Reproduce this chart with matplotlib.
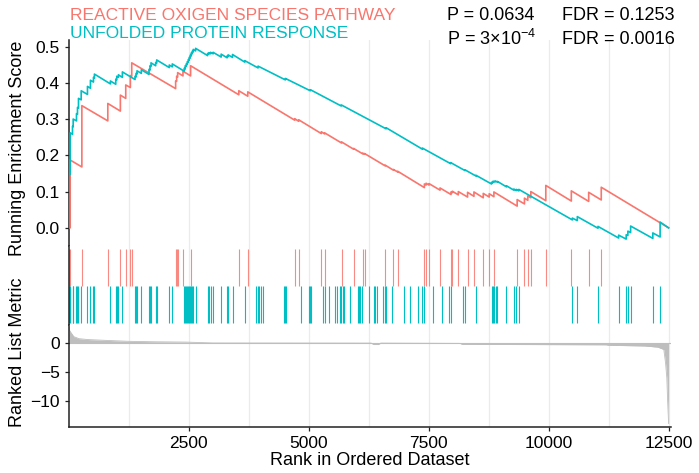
import matplotlib
matplotlib.use("Agg")
import matplotlib.pyplot as plt

plt.rcParams['font.family'] = ['Liberation Sans', 'DejaVu Sans']
plt.rcParams['mathtext.fontset'] = 'custom'
plt.rcParams['mathtext.rm'] = 'Liberation Sans'
plt.rcParams['mathtext.it'] = 'Liberation Sans:italic'
plt.rcParams['mathtext.default'] = 'regular'

N_GENES = 12500
RED = '#F8766D'
TEAL = '#00BFC4'
set_names = ['REACTIVE OXIGEN SPECIES PATHWAY', 'UNFOLDED PROTEIN RESPONSE']
p_labels = ['P = 0.0634', r'P = 3$\times$10$^{-4}$']
fdr_labels = ['FDR = 0.1253', 'FDR = 0.0016']

# gene set hit positions in the ranked list
red_hits = [4, 25, 268, 809, 1071, 1183, 1279, 1308, 2223, 2244, 2265, 2376, 2535,
            3540, 3727, 4705, 4788, 5260, 5329, 5682, 5932, 6125, 6161, 6591, 6764,
            6853, 7409, 7444, 7506, 7735, 7964, 7991, 8116, 8309, 8442, 8636, 8760,
            8858, 9343, 9495, 9565, 9628, 9940, 10472, 10834, 11096]
teal_hits = [4, 25, 73, 87, 156, 177, 198, 254, 385, 447, 510, 530, 863, 975, 996,
             1030, 1113, 1377, 1398, 1418, 1508, 1668, 1689, 1710, 1807, 1828, 2090,
             2153, 2402, 2423, 2444, 2465, 2486, 2506, 2527, 2548, 2569, 2590, 2639,
             2889, 2916, 2951, 3005, 3172, 3296, 3317, 3409, 3665, 3908, 3941, 3962,
             4012, 4039, 4476, 4511, 4532, 4844, 5010, 5031, 5052, 5294, 5343, 5412,
             5551, 5585, 5655, 5676, 5703, 5724, 5863, 6021, 6050, 6071, 6105, 6244,
             6348, 6369, 6416, 6556, 6591, 6612, 6729, 6993, 7111, 7284, 7367, 7402,
             7581, 7768, 7928, 7956, 8220, 8255, 8484, 8808, 8829, 8858, 8892, 8933,
             9120, 9274, 9328, 9378, 10493, 10597, 11028, 11458, 11616, 11651, 11708,
             12171, 12323]

# running enrichment score (vertices of the curves)
red_rank = [1, 25, 25, 268, 268, 809, 809, 1071, 1071, 1183, 1183, 1279, 1279, 1308, 1308,
            2223, 2223, 2244, 2244, 2265, 2265, 2376, 2376, 2535, 2535, 3540, 3540, 3727, 3727,
            4705, 4705, 4788, 4788, 5260, 5260, 5329, 5329, 5682, 5682, 5932, 5932,
            6125, 6125, 6161, 6161, 6591, 6591, 6764, 6764, 6853, 6853,
            7409, 7409, 7444, 7444, 7506, 7506, 7735, 7735,
            7964, 7964, 7991, 7991, 8116, 8116, 8309, 8309, 8442, 8442, 8636, 8636,
            8760, 8760, 8858, 8858, 9343, 9343, 9495, 9495, 9565, 9565, 9628, 9628,
            9940, 9940, 10472, 10472, 10834, 10834, 11096, 11096, 12500]
red_es = [0.0, 0.0, 0.187, 0.168, 0.337, 0.295, 0.343, 0.322, 0.366, 0.357, 0.394, 0.387, 0.42, 0.418, 0.455,
          0.384, 0.405, 0.404, 0.418, 0.416, 0.428, 0.419, 0.432, 0.419, 0.447, 0.367, 0.378, 0.363, 0.375,
          0.297, 0.301, 0.294, 0.298, 0.260, 0.265, 0.259, 0.262, 0.234, 0.237, 0.217, 0.219,
          0.204, 0.206, 0.203, 0.205, 0.171, 0.173, 0.159, 0.161, 0.154, 0.156,
          0.111, 0.121, 0.118, 0.123, 0.118, 0.122, 0.104, 0.110,
          0.092, 0.099, 0.097, 0.101, 0.091, 0.100, 0.085, 0.098, 0.087, 0.099, 0.083, 0.095,
          0.085, 0.094, 0.086, 0.099, 0.060, 0.078, 0.066, 0.082, 0.076, 0.088, 0.083, 0.100,
          0.075, 0.117, 0.074, 0.102, 0.073, 0.098, 0.077, 0.112, 0.0]

teal_rank = [1, 4, 4, 25, 25, 73, 73, 87, 87, 156, 156, 177, 177, 198, 198, 254, 254,
             385, 385, 447, 447, 510, 510, 530, 530, 863, 863, 975, 975, 996, 996, 1030, 1030,
             1113, 1113, 1377, 1377, 1398, 1398, 1418, 1418, 1508, 1508, 1668, 1668, 1689, 1689,
             1710, 1710, 1807, 1807, 1828, 1828, 2090, 2090, 2153, 2153, 2402, 2402, 2423, 2423,
             2444, 2444, 2465, 2465, 2486, 2486, 2506, 2506, 2527, 2527, 2548, 2548, 2569, 2569,
             2590, 2590, 2639, 2639, 2889, 2889, 2916, 2916, 2951, 2951, 3005, 3005, 3172, 3172,
             3296, 3296, 3317, 3317, 3409, 3409, 3665, 3665, 3941, 3941, 4511, 4511, 5031, 5031,
             5676, 5676, 6612, 6612, 7367, 7367, 7956, 7956, 8255, 8255, 8484, 8484,
             8808, 8808, 8829, 8829, 8858, 8858, 8892, 8892, 8933, 8933, 9120, 9120,
             9274, 9274, 9328, 9328, 9378, 9378, 10493, 10493, 10597, 10597, 11028, 11028,
             11458, 11458, 11616, 11616, 11651, 11651, 11708, 11708, 12171, 12171, 12323, 12323, 12500]
teal_es = [0.0, 0.0, 0.15, 0.148, 0.262, 0.258, 0.28, 0.279, 0.30, 0.295, 0.315, 0.313, 0.332, 0.330, 0.357,
           0.353, 0.378, 0.368, 0.39, 0.385, 0.407, 0.402, 0.415, 0.413, 0.424, 0.397, 0.405,
           0.396, 0.41, 0.408, 0.418, 0.415, 0.422, 0.415, 0.43, 0.409, 0.418, 0.416, 0.426,
           0.424, 0.433, 0.426, 0.436, 0.423, 0.437, 0.435, 0.447, 0.445, 0.455, 0.447, 0.456,
           0.454, 0.463, 0.442, 0.449, 0.444, 0.452, 0.432, 0.44, 0.438, 0.447, 0.445, 0.452,
           0.450, 0.458, 0.456, 0.464, 0.462, 0.47, 0.468, 0.476, 0.474, 0.482, 0.48, 0.487,
           0.485, 0.492, 0.488, 0.495, 0.475, 0.481, 0.479, 0.483, 0.480, 0.484, 0.480, 0.484,
           0.471, 0.479, 0.469, 0.474, 0.472, 0.477, 0.470, 0.478, 0.457, 0.461, 0.441, 0.446,
           0.408, 0.412, 0.378, 0.381, 0.336, 0.339, 0.273, 0.276, 0.217, 0.220, 0.177, 0.180,
           0.158, 0.160, 0.143, 0.145, 0.121, 0.125, 0.124, 0.128, 0.126, 0.129, 0.127, 0.129,
           0.126, 0.128, 0.113, 0.116, 0.104, 0.107, 0.103, 0.106, 0.102, 0.106,
           0.022, 0.027, 0.020, 0.031, -0.001, 0.004, -0.028, -0.020, -0.031, -0.019,
           -0.021, -0.009, -0.013, 0.005, -0.029, -0.014, -0.025, 0.016, 0.0]

# ranked list metric (outline)
metric_rank = [1, 10, 40, 100, 210, 400, 800, 1250, 1800, 2430, 2700, 3000, 6300, 6350,
               6450, 6500, 8150, 8200, 11200, 11250, 12000, 12275, 12400, 12436, 12463,
               12480, 12500]
metric_value = [2.7, 2.2, 1.8, 1.1, 0.75, 0.6, 0.45, 0.3, 0.22, 0.17, 0.1, 0.02, 0.0, -0.25,
                -0.25, 0.0, -0.05, -0.22, -0.3, -0.38, -0.5, -0.7, -1.1, -3.4, -6.0,
                -10.0, -13.8]

W, H = 699, 473
fig = plt.figure(figsize=(W / 100, H / 100), dpi=100)


def box(x0, y0, x1, y1):
    return [x0 / W, 1 - y1 / H, (x1 - x0) / W, (y1 - y0) / H]


ax_es = fig.add_axes(box(69, 40, 671, 246))
ax_rug = fig.add_axes(box(69, 246, 671, 325))
ax_rank = fig.add_axes(box(69, 325, 671, 427))

grid_x = list(range(1250, 12501, 1250))
for ax in (ax_es, ax_rug, ax_rank):
    ax.set_xlim(0, 12550)
    for gx in grid_x:
        ax.axvline(gx, color='#EBEBEB', lw=0.9, zorder=0)
    for s in ('top', 'right', 'bottom'):
        ax.spines[s].set_visible(False)
    ax.spines['left'].set_linewidth(1.1)
    ax.spines['left'].set_color('#222222')
    ax.tick_params(axis='both', labelsize=12.5, colors='#222222', length=3,
                   width=0.9, labelcolor='black')
    ax.set_xticks([])

# running ES
ax_es.plot(red_rank, red_es, color=RED, lw=1.2, zorder=3)
ax_es.plot(teal_rank, teal_es, color=TEAL, lw=1.2, zorder=3)
ax_es.set_ylim(-0.05, 0.518)
ax_es.set_yticks([0.0, 0.1, 0.2, 0.3, 0.4, 0.5])
ax_es.set_yticklabels(['0.0', '0.1', '0.2', '0.3', '0.4', '0.5'])

# rug of hits
ax_rug.vlines(red_hits, 0, 1, color=RED, lw=0.8, alpha=0.85)
ax_rug.vlines(teal_hits, -1, 0, color=TEAL, lw=0.8)
ax_rug.set_ylim(-1.05, 1.08)
ax_rug.set_yticks([])

# ranked list metric
ax_rank.fill_between(metric_rank, metric_value, 0, color='#BEBEBE', lw=0)
ax_rank.plot(metric_rank, metric_value, color='#BEBEBE', lw=0.6)
ax_rank.axhline(0, color='#BEBEBE', lw=0.8, zorder=1)
ax_rank.set_ylim(-14.4, 3.1)
ax_rank.set_yticks([0, -5, -10])
ax_rank.set_yticklabels(['0', '\u22125', '\u221210'])
ax_rank.spines['bottom'].set_visible(True)
ax_rank.spines['bottom'].set_linewidth(1.1)
ax_rank.spines['bottom'].set_color('#222222')
ax_rank.set_xticks([2500, 5000, 7500, 10000, 12500])
ax_rank.set_xticklabels(['2500', '5000', '7500', '10000', '12500'])
ax_rank.set_xlabel('Rank in Ordered Dataset', fontsize=13, labelpad=1)

fig.text(18 / W, 1 - 148 / H, 'Running Enrichment Score', rotation=90,
         ha='center', va='center', fontsize=13)
fig.text(18 / W, 1 - 352 / H, 'Ranked List Metric', rotation=90,
         ha='center', va='center', fontsize=13)

# legend-like titles and stats
fig.text(70 / W, 1 - 16 / H, set_names[0], color=RED, fontsize=12.5, va='center')
fig.text(70 / W, 1 - 33.5 / H, set_names[1], color=TEAL, fontsize=12.5, va='center')
for i, yy in enumerate([16, 39]):
    fig.text(447 / W, 1 - yy / H, p_labels[i], fontsize=13, va='center')
    fig.text(562 / W, 1 - yy / H, fdr_labels[i], fontsize=13, va='center')

fig.savefig('out.png', dpi=100)
